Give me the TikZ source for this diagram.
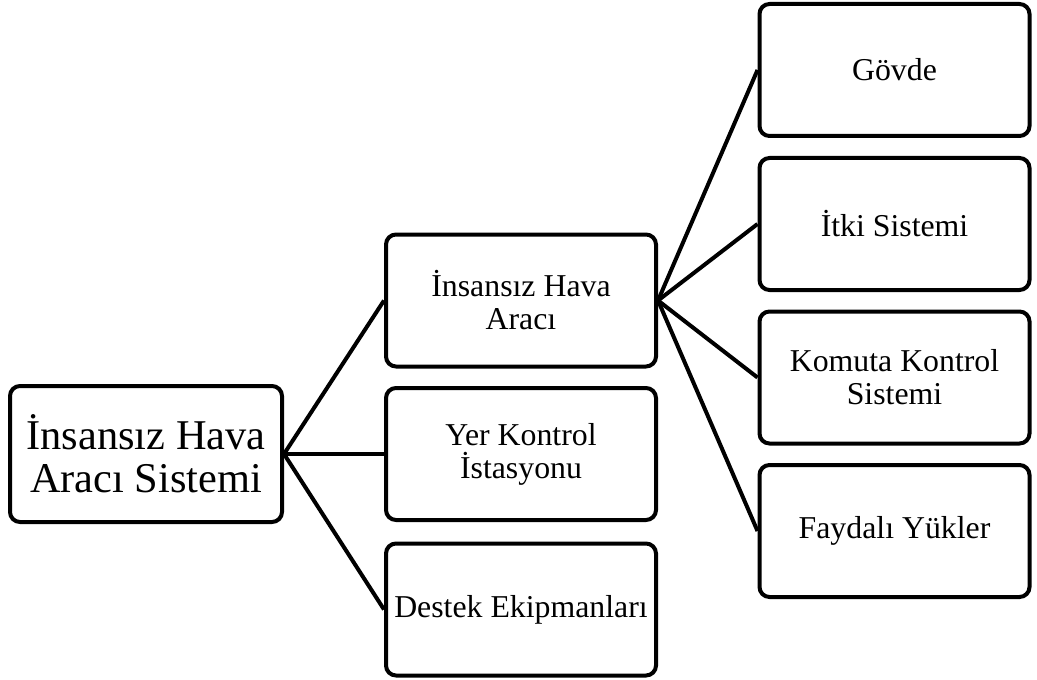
\documentclass[tikz,border=0pt]{standalone}
\usepackage{fontspec}
\setmainfont{Liberation Serif}
\usepackage{tikz}
\tikzset{
Boite/.style={
 draw=black,
 line width=2pt,
 rounded corners=5pt,
 align=center,
 inner sep=0pt,
 minimum width=135pt,
 minimum height=66pt,
 font=\fontsize{15.9}{16.5}\selectfont
 },
GrandeBoite/.style={
 Boite,
 minimum width=136pt,
 minimum height=68pt,
 font=\fontsize{21.2}{21.5}\selectfont
 },
Lien/.style={
 draw=black,
 line width=2pt
 }
}
\begin{document}
\begin{tikzpicture}[x=0.5pt,y=-0.5pt]
\useasboundingbox (0,0) rectangle (1037,679);
\node[GrandeBoite] (sys) at (146,454) {İnsansız Hava\\Aracı Sistemi};
\node[Boite] (iha) at (521,300.5) {İnsansız Hava\\Aracı};
\node[Boite] (yki) at (521,454) {Yer Kontrol\\İstasyonu};
\node[Boite] (dest) at (521,609.5) {Destek Ekipmanları};
\node[Boite] (govde) at (894.5,70) {Gövde};
\node[Boite] (itki) at (894.5,224) {İtki Sistemi};
\node[Boite] (kks) at (894.5,377.5) {Komuta Kontrol\\Sistemi};
\node[Boite] (yuk) at (894.5,531) {Faydalı Yükler};
\foreach \b in {iha,yki,dest}
 \draw[Lien] (sys.east) -- (\b.west);
\foreach \b in {govde,itki,kks,yuk}
 \draw[Lien] (iha.east) -- (\b.west);
\end{tikzpicture}
\end{document}
